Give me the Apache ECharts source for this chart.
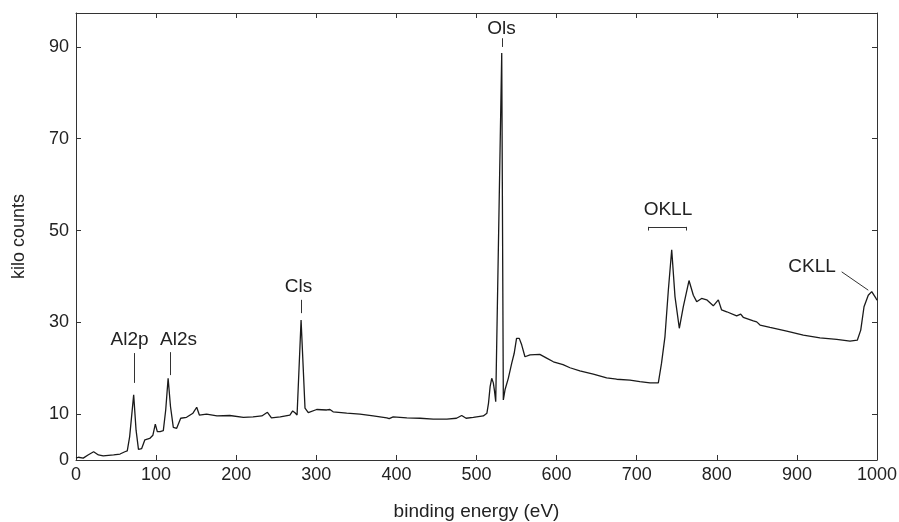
<!DOCTYPE html>
<html>
<head>
<meta charset="utf-8">
<script src="https://cdn.jsdelivr.net/npm/echarts@6/dist/echarts.min.js"></script>
<style>
  html, body { margin: 0; padding: 0; background: #fff; }
  #chart { width: 899px; height: 522px; }
</style>
</head>
<body>
<div id="chart"></div>
<script>
// survey spectrum
const energy = [0, 3, 9, 15, 22, 28, 34, 47, 55, 61, 64, 67, 72, 75, 78, 82, 86, 92, 96, 99,
  101.5, 105, 109, 112, 115, 118, 121.5, 125.7, 130.7, 138, 146, 150.7, 154, 163, 176, 192, 209, 221, 232, 239,
  244, 255, 267, 270.5, 273.4, 276, 281, 285.9, 290, 300.5, 313, 317, 321, 338, 354.5, 371, 388, 391, 396, 413,
  429.5, 446, 463, 475, 481.5, 487, 496, 508.5, 513, 515, 517, 519, 521, 522.5, 524, 531.5, 533.5, 535.6, 539.7, 544,
  547, 550, 553.4, 556.4, 560.5, 566.8, 579, 587.6, 596, 608, 616.7, 629, 645.8, 662.5, 675, 691.6, 704, 716.6, 727, 731,
  735.3, 739.5, 743.7, 747.8, 753.2, 758.2, 765.3, 770.7, 774.9, 781, 787.4, 795.6, 801.9, 806, 812.4, 824.8, 829.8, 833, 845.6, 849.8,
  854, 866.4, 887.3, 908, 928.8, 949.7, 966.3, 975.4, 979.7, 983.8, 989.1, 993.4, 998.8, 1000]
const counts = [0.4, 0.6, 0.4, 1.1, 1.8, 1.1, 0.9, 1.1, 1.3, 1.8, 2.0, 5.1, 14.2, 6.5, 2.3, 2.5, 4.4, 4.7, 5.4, 7.8,
  6.2, 6.2, 6.4, 10.9, 17.8, 11.6, 7.1, 6.9, 9.1, 9.3, 10.2, 11.5, 9.8, 10.0, 9.6, 9.7, 9.3, 9.4, 9.6, 10.4,
  9.2, 9.4, 9.8, 10.7, 10.3, 9.8, 30.5, 11.3, 10.3, 11.0, 10.9, 11.0, 10.5, 10.2, 10.0, 9.6, 9.2, 9.0, 9.4, 9.2,
  9.1, 8.9, 8.9, 9.1, 9.7, 9.1, 9.3, 9.6, 10.2, 12.4, 16.0, 17.8, 16.8, 15.0, 12.7, 88.7, 13.1, 15.3, 17.8, 21.1,
  23.2, 26.5, 26.5, 25.1, 22.5, 22.9, 23.0, 22.2, 21.4, 20.8, 20.1, 19.4, 18.7, 17.9, 17.6, 17.4, 17.1, 16.8, 16.8, 21.1,
  26.9, 37.0, 45.8, 35.6, 28.7, 33.4, 39.1, 35.9, 34.5, 35.2, 34.9, 33.6, 34.9, 32.7, 32.3, 31.4, 31.8, 31.1, 30.3, 30.1,
  29.4, 28.9, 28.1, 27.2, 26.6, 26.3, 25.9, 26.1, 28.3, 33.4, 35.9, 36.7, 35.2, 34.8]

const yLabelTicks = [0, 10, 30, 50, 70, 90]
const yMarkTicks = [10, 30, 50, 70, 90]

// peak names and where they sit (data coords)
const peakNames = ['Al2p', 'Al2s', 'Cls', 'Ols', 'OKLL', 'CKLL']
const peakTextAt = [[66.8, 26.1], [128, 26.1], [277.8, 37.8], [531.2, 94], [739, 54.5], [918.9, 42.2]]
const leaderLines = [
  [[72.4, 16.8], [72.4, 23.3]],
  [[117.4, 18.5], [117.4, 23.5]],
  [[281, 32.0], [281, 34.9]],
  [[531.8, 90.0], [531.8, 91.9]],
  [[714.5, 50.0], [714.5, 50.8]],
  [[714.5, 50.8], [761.6, 50.8]],
  [[761.6, 50.8], [761.6, 50.0]],
  [[955.9, 41.0], [989.1, 37.0]]
]

const font = 'Liberation Sans, Arial, sans-serif'
const ink = '#222'
const frame = { show: true, onZero: false, lineStyle: { color: '#333', width: 1 } }
const tick = { show: true, inside: true, length: 5, lineStyle: { color: '#333' } }

let chart = echarts.init(document.getElementById('chart'), null, { renderer: 'canvas' })

chart.setOption({
  animation: false,
  backgroundColor: '#fff',
  grid: {
    left: 76,
    right: 22,
    top: 13,
    bottom: 62,
    containLabel: false,
    outerBoundsMode: 'none'
  },
  xAxis: [
    {
      type: 'value',
      position: 'bottom',
      min: 0,
      max: 1000,
      interval: 100,
      name: 'binding energy (eV)',
      nameLocation: 'middle',
      nameGap: 42,
      nameTextStyle: { color: ink, fontSize: 19, fontFamily: font },
      axisLine: frame,
      axisTick: tick,
      axisLabel: {
        color: ink, fontSize: 18, fontFamily: font, margin: 6,
        showMinLabel: true, showMaxLabel: true,
        formatter: v => String(v)
      },
      splitLine: { show: false }
    },
    {
      type: 'value',
      position: 'top',
      min: 0,
      max: 1000,
      interval: 100,
      axisLine: frame,
      axisTick: tick,
      axisLabel: { show: false },
      splitLine: { show: false }
    }
  ],
  yAxis: [
    {
      type: 'value',
      position: 'left',
      min: 0,
      max: 97.4,
      name: 'kilo counts',
      nameLocation: 'middle',
      nameGap: 48,
      nameTextStyle: { color: ink, fontSize: 18, fontFamily: font },
      axisLine: frame,
      axisTick: Object.assign({}, tick, { customValues: yMarkTicks }),
      axisLabel: { color: ink, fontSize: 18, fontFamily: font, margin: 7, customValues: yLabelTicks },
      splitLine: { show: false }
    },
    {
      type: 'value',
      position: 'right',
      min: 0,
      max: 97.4,
      axisLine: frame,
      axisTick: Object.assign({}, tick, { customValues: yMarkTicks }),
      axisLabel: { show: false },
      splitLine: { show: false }
    }
  ],
  series: [
    {
      type: 'line',
      name: 'survey',
      xAxisIndex: 0,
      yAxisIndex: 0,
      data: energy.map((e, i) => [e, counts[i]]),
      showSymbol: false,
      symbol: 'none',
      lineStyle: { color: '#1a1a1a', width: 1.3 },
      markLine: {
        silent: true,
        symbol: ['none', 'none'],
        lineStyle: { color: '#333', width: 1, type: 'solid' },
        label: { show: false },
        data: leaderLines.map(seg => [{ coord: seg[0] }, { coord: seg[1] }])
      },
      markPoint: {
        silent: true,
        symbol: 'circle',
        symbolSize: 1,
        itemStyle: { color: 'rgba(0,0,0,0)' },
        label: { show: true, position: 'inside', color: ink, fontSize: 19, fontFamily: font },
        data: peakNames.map((n, i) => ({ coord: peakTextAt[i], value: n, label: { formatter: n } }))
      }
    }
  ]
})
</script>
</body>
</html>
